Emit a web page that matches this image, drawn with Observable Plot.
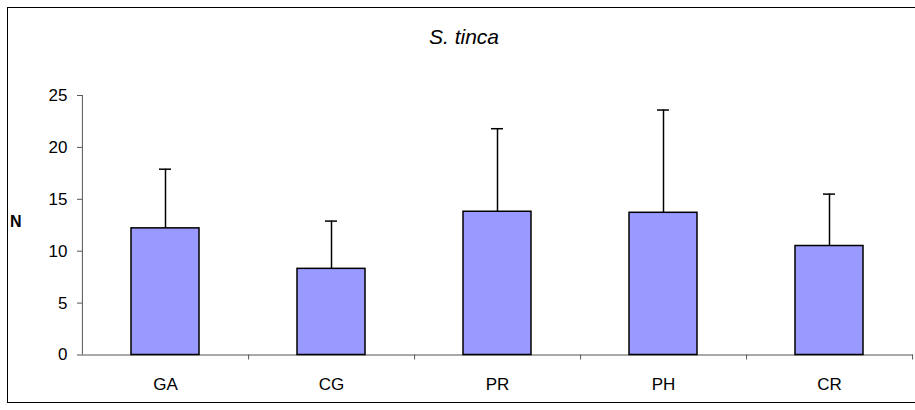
<!DOCTYPE html>
<html>
<head>
<meta charset="utf-8">
<script src="https://cdn.jsdelivr.net/npm/d3@7"></script>
<script src="https://cdn.jsdelivr.net/npm/@observablehq/plot@0.6"></script>
<style>
  html, body { margin: 0; padding: 0; background: #fff; }
  #wrap { position: relative; width: 915px; height: 410px; overflow: hidden; font-family: "Liberation Sans", Arial, sans-serif; }
  #frame { position: absolute; left: 7px; top: 7px; width: 930px; height: 396px; border: 1px solid #000; box-sizing: border-box; pointer-events: none; }
  #title { position: absolute; left: 0; width: 928px; top: 25px; text-align: center; font-size: 21px; font-style: italic; color: #000; }
  #ylabel { position: absolute; left: 10px; top: 213px; font-size: 16px; font-weight: bold; color: #000; }
  #chart { position: absolute; left: 0; top: 0; }
</style>
</head>
<body>
<div id="wrap">
  <div id="chart"></div>
  <div id="frame"></div>
  <div id="title">S. tinca</div>
  <div id="ylabel">N</div>
</div>
<script>
// Sampling sites and mean abundance of S. tinca with standard deviation
const sites = ["GA", "CG", "PR", "PH", "CR"];
const means = [12.2, 8.3, 13.8, 13.7, 10.5];
const sds = [5.7, 4.6, 8.0, 9.9, 5.0];
const yTicks = [0, 5, 10, 15, 20, 25];

const data = sites.map((site, i) => ({site, mean: means[i], sd: sds[i], top: means[i] + sds[i]}));

const width = 915, height = 410;
const marginLeft = 82, marginRight = 2, marginTop = 95, marginBottom = 55.5;
const paddingInner = 0.59, paddingOuter = 0.295;
const step = (width - marginLeft - marginRight) / (sites.length - paddingInner + 2 * paddingOuter);

const chart = Plot.plot({
  width, height, marginLeft, marginRight, marginTop, marginBottom,
  style: {fontFamily: "'Liberation Sans', Arial, sans-serif", fontSize: "17px", color: "#000", background: "transparent", overflow: "visible"},
  x: {domain: sites, paddingInner, paddingOuter, label: null},
  y: {domain: [0, 25], label: null},
  marks: [
    // vertical axis line and category separators
    Plot.ruleX([sites[0]], {dx: -step / 2, y1: 0, y2: 25, stroke: "#555", strokeWidth: 1}),
    Plot.ruleY([0], {stroke: "#555", strokeWidth: 1}),
    Plot.ruleX(sites, {x: d => d, dx: step / 2, y1: 0, y2: 0, insetBottom: -5, stroke: "#555", strokeWidth: 1}),
    Plot.axisY({ticks: yTicks, tickSize: 5, tickPadding: 10, stroke: "#555", label: null, fill: "#000"}),
    Plot.axisX({tickSize: 0, tickPadding: 23, label: null, fill: "#000"}),
    Plot.barY(data, {x: "site", y: "mean", fill: "#9999ff", stroke: "#000", strokeWidth: 1.5}),
    Plot.ruleX(data, {x: "site", y1: "mean", y2: "top", stroke: "#000", strokeWidth: 1.5}),
    Plot.tickY(data, {x: "site", y: "top", stroke: "#000", strokeWidth: 1.5, insetLeft: 28, insetRight: 28})
  ]
});
document.getElementById("chart").appendChild(chart);
</script>
</body>
</html>
